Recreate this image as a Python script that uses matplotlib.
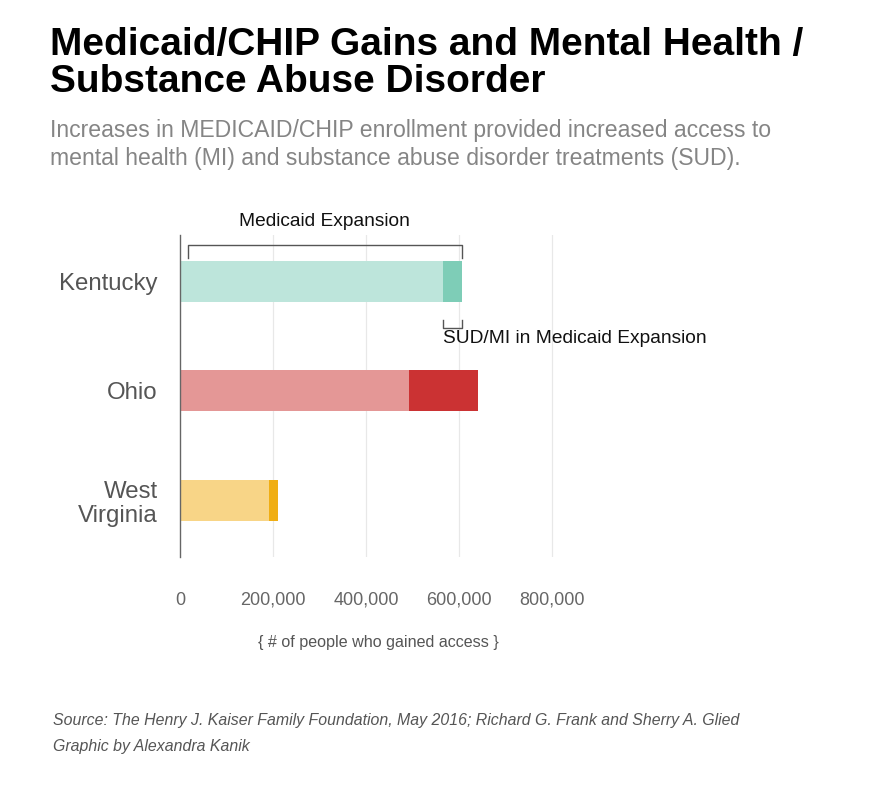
import matplotlib.pyplot as plt
import numpy as np

# data
states = ['Kentucky', 'Ohio', 'West\nVirginia']
total_gain = [605000, 641000, 211000]     # total medicaid expansion gain
sud_mi = [41000, 150000, 20000]           # SUD/MI share of it
light_cols = ['#bde5db', '#e49796', '#f8d587']
dark_cols = ['#7ecdb7', '#cb3233', '#f0ae13']
xticks = [0, 200000, 400000, 600000, 800000]

plt.rcParams['font.family'] = ['Liberation Sans', 'DejaVu Sans']

W, H = 880, 789
fig = plt.figure(figsize=(W / 100, H / 100), dpi=100)

def fx(x):
    return x / W

def fy(y):
    return 1 - y / H

# axes placed in pixel terms: x=0 at 180px, 0.4655 px per 1000 people
xmax = 900000
ax_l, ax_t, ax_b = 180, 235, 557
ax_w = xmax * 0.0004655
ax = fig.add_axes([fx(ax_l), fy(ax_b), ax_w / W, (ax_b - ax_t) / H])

y = np.arange(len(states))
h = 0.375
base = [t - s for t, s in zip(total_gain, sud_mi)]
ax.barh(y, base, height=h, color=light_cols, zorder=2)
ax.barh(y, sud_mi, left=base, height=h, color=dark_cols, zorder=2)

ax.set_xlim(0, xmax)
ax.set_ylim(2.52, -0.426)
ax.set_yticks(y)
ax.set_yticklabels(states, fontsize=17.3, color='#555555', linespacing=1.15)
ax.set_xticks(xticks)
ax.set_xticklabels(['{:,}'.format(v) for v in xticks], fontsize=13, color='#666666')
ax.tick_params(length=0)
ax.tick_params(axis='y', pad=16)
ax.tick_params(axis='x', pad=25)
for v in xticks[1:]:
    ax.axvline(v, color='#e8e8e8', lw=0.9, zorder=1)
for s in ['top', 'right', 'bottom']:
    ax.spines[s].set_visible(False)
ax.spines['left'].set_color('#666666')
ax.spines['left'].set_linewidth(1)
ax.set_xlabel('{ # of people who gained access }', fontsize=11.6, color='#555555')
ax.xaxis.set_label_coords((378 - ax_l) / ax_w, -(635 - ax_b) / (ax_b - ax_t))

# bracket over Kentucky: medicaid expansion
bx0, bx1 = 17000, total_gain[0]
top = -h / 2
ax.plot([bx0, bx0, bx1, bx1], [top - 0.03, top - 0.145, top - 0.145, top - 0.03],
        color='#555555', lw=1, clip_on=False, zorder=3)
ax.text((bx0 + bx1) / 2, top - 0.36, 'Medicaid Expansion', ha='center', va='center',
        fontsize=13.8, color='#111111')

# small bracket under Kentucky: SUD/MI part
sx0, sx1 = base[0], total_gain[0]
bot = h / 2
ax.plot([sx0, sx0, sx1, sx1], [bot + 0.165, bot + 0.24, bot + 0.24, bot + 0.165],
        color='#555555', lw=1, clip_on=False, zorder=3)
ax.text(sx0, bot + 0.33, 'SUD/MI in Medicaid Expansion', ha='left', va='center',
        fontsize=13.8, color='#111111')

# titles
fig.text(fx(50), fy(45), 'Medicaid/CHIP Gains and Mental Health /', fontsize=28,
         fontweight='bold', color='#000000', va='center', ha='left')
fig.text(fx(50), fy(82), 'Substance Abuse Disorder', fontsize=28,
         fontweight='bold', color='#000000', va='center', ha='left')
fig.text(fx(50), fy(131), 'Increases in MEDICAID/CHIP enrollment provided increased access to',
         fontsize=16.6, color='#858585', va='center', ha='left')
fig.text(fx(50), fy(158), 'mental health (MI) and substance abuse disorder treatments (SUD).',
         fontsize=16.6, color='#858585', va='center', ha='left')

# footer
fig.text(fx(53), fy(721), 'Source: The Henry J. Kaiser Family Foundation, May 2016; Richard G. Frank and Sherry A. Glied',
         fontsize=11.45, style='italic', color='#555555', va='center', ha='left')
fig.text(fx(53), fy(746), 'Graphic by Alexandra Kanik', fontsize=11.45, style='italic',
         color='#555555', va='center', ha='left')

fig.savefig('out.png', dpi=100)
